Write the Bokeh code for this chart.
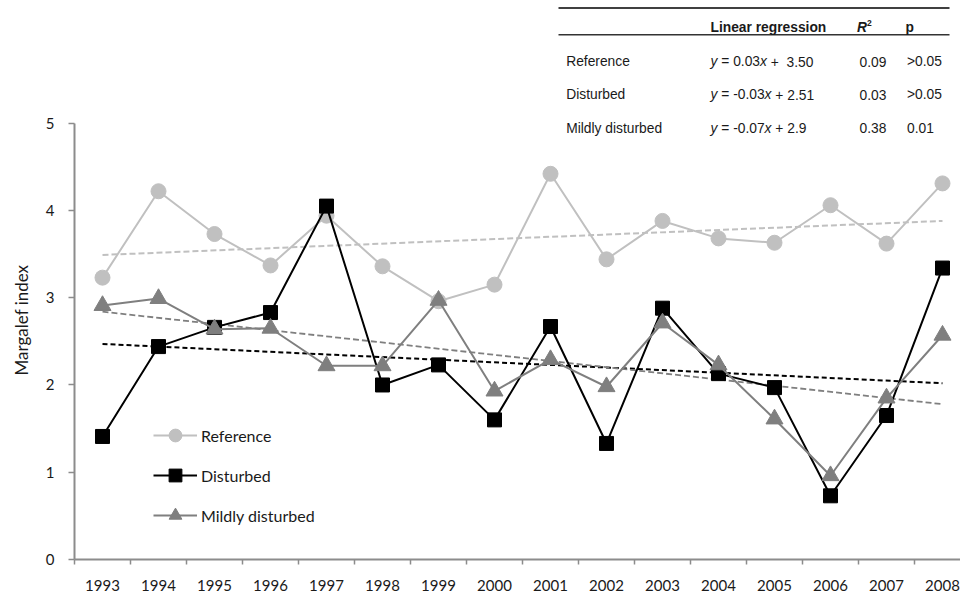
from bokeh.plotting import figure
from bokeh.models import FixedTicker, Legend, LegendItem, Label, Range1d, Title
from bokeh.embed import file_html
from bokeh.resources import INLINE

# ---------------- data ----------------
years = list(range(1993, 2009))
reference = [3.23, 4.22, 3.73, 3.37, 3.94, 3.36, 2.96, 3.15, 4.42, 3.44, 3.88, 3.68, 3.63, 4.06, 3.62, 4.31]
disturbed = [1.41, 2.44, 2.66, 2.83, 4.05, 2.00, 2.23, 1.60, 2.67, 1.33, 2.88, 2.13, 1.97, 0.73, 1.65, 3.34]
mildly = [2.91, 2.99, 2.64, 2.65, 2.22, 2.22, 2.97, 1.93, 2.29, 1.98, 2.71, 2.23, 1.61, 0.96, 1.85, 2.57]

trend_years = [1993, 2008]
trend_reference = [3.49, 3.88]
trend_disturbed = [2.47, 2.02]
trend_mildly = [2.84, 1.78]

y_ticks = [0, 1, 2, 3, 4, 5]

table_rows = ["Reference", "Disturbed", "Mildly disturbed"]
table_slopes = ["0.03", "-0.03", "-0.07"]
table_intercepts = ["  3.50", " 2.51", " 2.9"]
table_r2 = ["0.09", "0.03", "0.38"]
table_p = [">0.05", ">0.05", "0.01"]

# ---------------- layout helpers ----------------
W, H = 960, 594
X0 = 74.0      # canvas px of x = 1992.5
PXY = 56.0     # px per year
Y0 = 559.0     # canvas px of y = 0
PXU = 87.26    # px per unit


def X(px):
    return 1992.5 + (px - X0) / PXY


def Y(py):
    return (Y0 - py) / PXU


AW = {'y': .5, 'x': .5, ' ': .278, '=': .584, '+': .584, '-': .333, '.': .278, '>': .584}


def tw(s, size):
    return sum(AW.get(c, .556) for c in s) * size


p = figure(width=W, height=H, output_backend="svg", toolbar_location=None,
           x_range=Range1d(1992.5, X(W)), y_range=Range1d(0, Y(0)),
           min_border_left=int(X0), min_border_right=0, min_border_top=0,
           min_border_bottom=int(H - Y0))
p.outline_line_color = None
p.xgrid.visible = False
p.ygrid.visible = False
p.background_fill_color = "white"

AXC = "#8c8c8c"
TXT = "#1a1a1a"

xa = p.xaxis[0]
xa.ticker = FixedTicker(ticks=years, minor_ticks=[1992.5 + i for i in range(17)])
xa.axis_line_color = AXC
xa.axis_line_width = 2
xa.major_tick_in = 0
xa.major_tick_out = 0
xa.minor_tick_in = 0
xa.minor_tick_out = 5
xa.minor_tick_line_color = AXC
xa.minor_tick_line_width = 1.5
xa.major_label_text_font = "Lato"
xa.major_label_text_font_size = "15px"
xa.major_label_text_color = TXT
xa.major_label_standoff = 15

ya = p.yaxis[0]
ya.ticker = FixedTicker(ticks=y_ticks, minor_ticks=[])
ya.bounds = (0, 5)
ya.axis_line_color = AXC
ya.axis_line_width = 2
ya.major_tick_in = 0
ya.major_tick_out = 6
ya.major_tick_line_color = AXC
ya.major_tick_line_width = 1.5
ya.minor_tick_in = 0
ya.minor_tick_out = 0
ya.major_label_text_font = "Lato"
ya.major_label_text_font_size = "15px"
ya.major_label_text_color = TXT
ya.major_label_standoff = 14

# y axis title as a side title (left panel)
p.add_layout(Title(text="Margalef index", align="left", offset=184, vertical_align="top",
                   standoff=17, text_font="Lato", text_font_size="17px",
                   text_font_style="normal", text_color=TXT), "left")

LIGHT = "#c0c0c0"
DARK = "#7f7f7f"

# trend lines
p.line(trend_years, trend_reference, line_color=LIGHT, line_width=2, line_dash="6 3")
p.line(trend_years, trend_disturbed, line_color="black", line_width=2, line_dash="5 3")
p.line(trend_years, trend_mildly, line_color=DARK, line_width=1.8, line_dash="6 3")

# series
r1l = p.line(years, reference, line_color=LIGHT, line_width=2)
r1m = p.scatter(years, reference, marker="circle", size=15, fill_color=LIGHT, line_color=LIGHT)
r2l = p.line(years, disturbed, line_color="black", line_width=2)
r2m = p.scatter(years, disturbed, marker="square", size=14, fill_color="black", line_color="black")
r3l = p.line(years, mildly, line_color=DARK, line_width=2)
r3m = p.scatter(years, mildly, marker="triangle", size=17, fill_color=DARK, line_color=DARK)

legend = Legend(items=[LegendItem(label="Reference", renderers=[r1l, r1m]),
                       LegendItem(label="Disturbed", renderers=[r2l, r2m]),
                       LegendItem(label="Mildly disturbed", renderers=[r3l, r3m])],
                location=(79, 28), glyph_width=44, glyph_height=32, label_height=32,
                spacing=8, padding=0, margin=0, border_line_color=None,
                background_fill_alpha=0, label_text_font="Lato",
                label_text_font_size="16px", label_text_color=TXT, label_standoff=4)
p.add_layout(legend)

# ---------------- regression table ----------------
FS = 13.8
TF = "Liberation Sans"
TC = "#1a1a1a"


def tlabel(px, py, text, style="normal", size=FS):
    p.add_layout(Label(x=X(px), y=Y(py), text=text, text_align="left", text_baseline="middle",
                       text_font=TF, text_font_size=f"{size}px", text_font_style=style,
                       text_color=TC))


p.segment(x0=[X(558)], y0=[Y(7.5)], x1=[X(949)], y1=[Y(7.5)], line_color="black", line_width=1.5)
p.segment(x0=[X(558)], y0=[Y(34.3)], x1=[X(949)], y1=[Y(34.3)], line_color="#333333", line_width=1.5)

tlabel(710, 27, "Linear regression", "bold")
tlabel(856.5, 27, "R", "bold italic")
tlabel(856.5 + 0.722 * FS, 22, "2", "bold", 8.5)
tlabel(905, 27, "p", "bold")

row_y = [61, 94.3, 127.6]
for i, name in enumerate(table_rows):
    yy = row_y[i]
    tlabel(565.7, yy, name)
    px = 710.0
    tlabel(px, yy, "y", "italic")
    px += tw("y ", FS)
    tlabel(px, yy, "= " + table_slopes[i])
    px += tw("= " + table_slopes[i], FS)
    tlabel(px, yy, "x", "italic")
    px += tw("x ", FS)
    tlabel(px, yy, "+")
    px += tw("+", FS)
    ic = table_intercepts[i]
    px += tw(ic[:len(ic) - len(ic.lstrip())], FS)
    tlabel(px, yy, ic.strip())
    tlabel(859, yy, table_r2[i])
    tlabel(906.5, yy, table_p[i])

open("out.html", "w").write(file_html(p, INLINE))
